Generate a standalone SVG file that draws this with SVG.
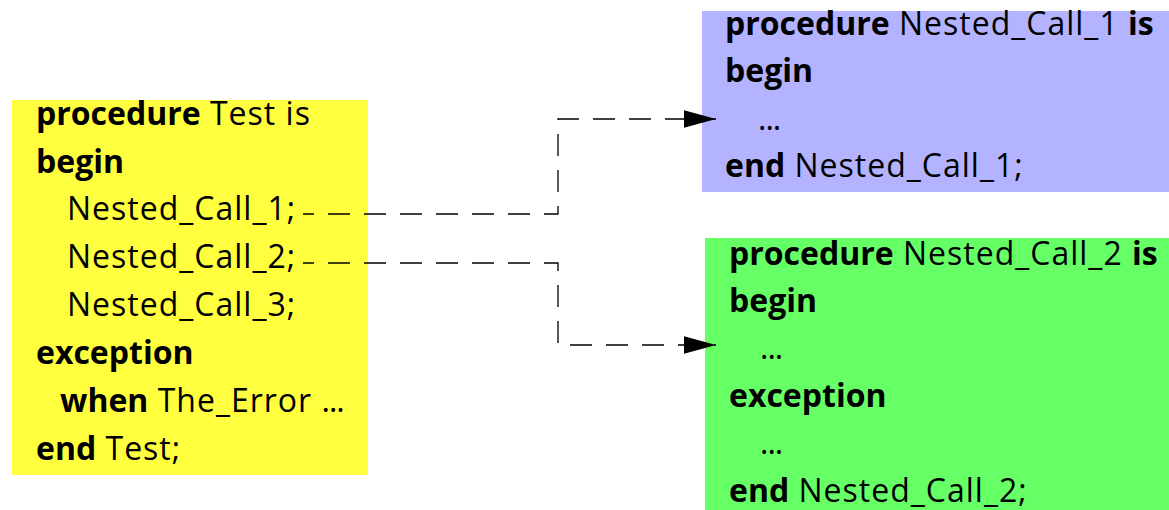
<svg xmlns="http://www.w3.org/2000/svg" width="1169" height="510" viewBox="0 0 1169 510">
<defs>
<style>
text{font-family:"Open Sans","Noto Sans","Liberation Sans",sans-serif;font-size:32px;fill:#000;letter-spacing:1px}
.b{font-weight:bold;letter-spacing:0}
.d{letter-spacing:-1px}
.conn{fill:none;stroke:#000;stroke-width:1.3;stroke-dasharray:22 14;stroke-dashoffset:11}
</style>
<marker id="arr" markerUnits="userSpaceOnUse" markerWidth="32" markerHeight="18" viewBox="0 0 31 17" refX="31" refY="8.5" orient="auto">
<path d="M0,0 L31,8.5 L0,17 Z" fill="#000"/>
</marker>
</defs>
<rect width="1169" height="510" fill="#fff"/>
<g id="node-test">
<rect x="12" y="100" width="356" height="375" fill="#ffff40"/>
<text x="36" y="125"><tspan class="b">procedure</tspan> Test is</text>
<text x="36" y="173" class="b">begin</text>
<text x="67" y="220">Nested_Call_1;</text>
<text x="67" y="268">Nested_Call_2;</text>
<text x="67" y="316">Nested_Call_3;</text>
<text x="36" y="364" class="b">exception</text>
<text x="60" y="412"><tspan class="b">when</tspan> The_Error <tspan class="d">...</tspan></text>
<text x="36" y="460"><tspan class="b">end</tspan> Test;</text>
</g>
<g id="node-nested1">
<rect x="702" y="11" width="467" height="181" fill="#b3b3ff"/>
<text x="725" y="35"><tspan class="b">procedure</tspan> Nested_Call_1 <tspan class="b">is</tspan></text>
<text x="725" y="82" class="b">begin</text>
<text x="758" y="130" class="d">...</text>
<text x="725" y="177"><tspan class="b">end</tspan> Nested_Call_1;</text>
</g>
<g id="node-nested2">
<rect x="705" y="238" width="464" height="272" fill="#66ff66"/>
<text x="729" y="265"><tspan class="b">procedure</tspan> Nested_Call_2 <tspan class="b">is</tspan></text>
<text x="729" y="312" class="b">begin</text>
<text x="760" y="359" class="d">...</text>
<text x="729" y="407" class="b">exception</text>
<text x="760" y="454" class="d">...</text>
<text x="729" y="502"><tspan class="b">end</tspan> Nested_Call_2;</text>
</g>
<g id="connectors">
<path class="conn" d="M303,214 H558 V119 H716" marker-end="url(#arr)"/>
<path class="conn" d="M303,263 H558 V345 H716" marker-end="url(#arr)"/>
</g>
</svg>
